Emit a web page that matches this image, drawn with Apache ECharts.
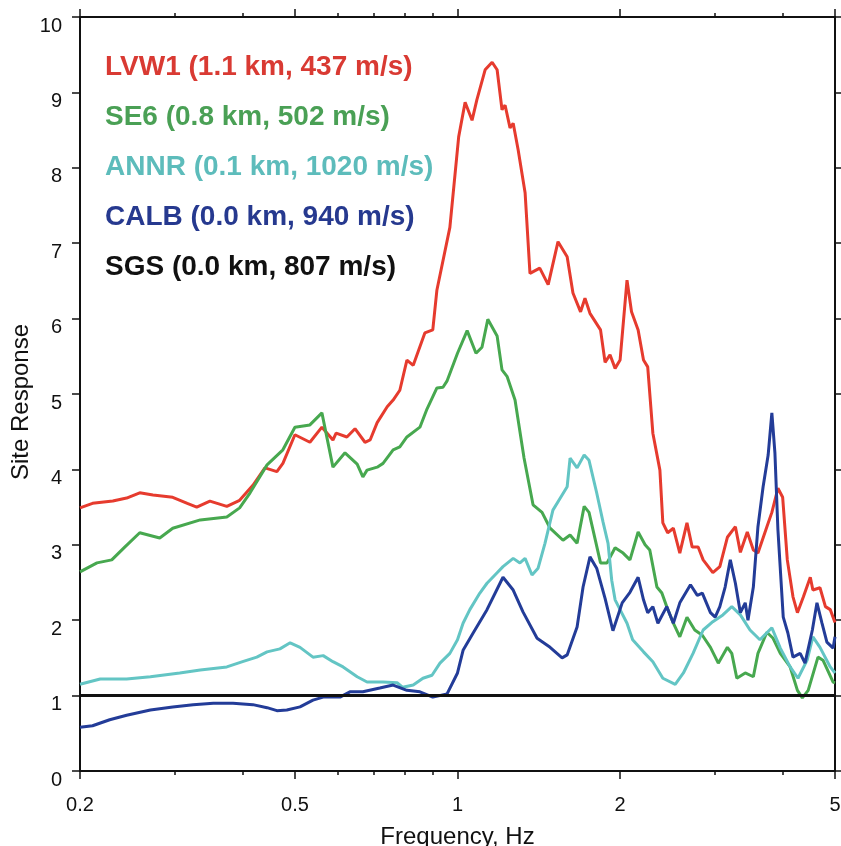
<!DOCTYPE html>
<html>
<head>
<meta charset="utf-8">
<script src="https://cdn.jsdelivr.net/npm/echarts@6/dist/echarts.min.js"></script>
<style>
  html, body { margin: 0; padding: 0; background: #fff; }
  #chart { width: 841px; height: 846px; }
</style>
</head>
<body>
<div id="chart"></div>
<script>
// x ticks (Hz) - the axis is drawn on log10(frequency)
const xMajor = [0.2, 0.5, 1, 2, 5];
const xMajorLabels = ['0.2', '0.5', '1', '2', '5'];
const xMinor = [0.3, 0.4, 0.6, 0.7, 0.8, 0.9, 3, 4];

const names = [
  'LVW1 (1.1 km, 437 m/s)',
  'SE6 (0.8 km, 502 m/s)',
  'ANNR (0.1 km, 1020 m/s)',
  'CALB (0.0 km, 940 m/s)',
  'SGS (0.0 km, 807 m/s)'
];

const redFreq = [0.2,0.211,0.230,0.244,0.258,0.273,0.297,0.316,0.329,0.348,0.374,0.395,0.418,0.440,0.463,0.475,0.5,0.533,0.561,0.588,0.596,0.624,0.646,0.674,0.689,0.710,0.741,0.760,0.782,0.806,0.828,0.870,0.9,0.916,0.968,1.005,1.033,1.064,1.086,1.125,1.159,1.184,1.209,1.225,1.251,1.268,1.295,1.334,1.362,1.42,1.472,1.535,1.596,1.636,1.69,1.722,1.759,1.84,1.876,1.916,1.958,2.0,2.06,2.10,2.16,2.21,2.25,2.30,2.37,2.40,2.45,2.51,2.58,2.66,2.72,2.79,2.85,2.97,3.06,3.16,3.27,3.34,3.44,3.53,3.60,3.74,3.82,3.92,4.0,4.08,4.18,4.26,4.37,4.50,4.55,4.69,4.80,4.90,5.0];
const redVals = [3.49,3.55,3.58,3.62,3.69,3.66,3.63,3.55,3.50,3.58,3.51,3.59,3.79,4.02,3.97,4.08,4.46,4.36,4.56,4.39,4.48,4.43,4.54,4.36,4.39,4.62,4.83,4.92,5.05,5.45,5.38,5.81,5.85,6.38,7.21,8.41,8.87,8.63,8.90,9.30,9.40,9.30,8.77,8.83,8.53,8.59,8.24,7.67,6.60,6.67,6.45,7.02,6.82,6.34,6.09,6.27,6.07,5.85,5.42,5.52,5.34,5.45,6.51,6.09,5.85,5.45,5.36,4.48,3.99,3.29,3.16,3.22,2.89,3.29,2.97,2.97,2.80,2.63,2.71,3.10,3.24,2.90,3.17,2.93,2.89,3.24,3.43,3.75,3.63,2.80,2.31,2.10,2.31,2.57,2.40,2.43,2.18,2.14,1.97];

const greenFreq = [0.2,0.215,0.229,0.242,0.258,0.281,0.297,0.334,0.374,0.395,0.413,0.444,0.475,0.5,0.533,0.561,0.588,0.619,0.652,0.668,0.680,0.710,0.728,0.760,0.782,0.806,0.852,0.878,0.916,0.940,0.956,1.0,1.042,1.082,1.11,1.138,1.184,1.209,1.236,1.278,1.328,1.38,1.434,1.484,1.568,1.616,1.665,1.716,1.752,1.84,1.892,1.958,2.026,2.086,2.16,2.225,2.27,2.34,2.39,2.44,2.51,2.58,2.66,2.75,2.84,2.94,3.04,3.16,3.22,3.29,3.41,3.53,3.60,3.74,3.84,3.96,4.13,4.26,4.35,4.46,4.65,4.75,4.96,5.0];
const greenVals = [2.64,2.76,2.80,2.97,3.16,3.09,3.22,3.33,3.37,3.49,3.69,4.06,4.26,4.56,4.59,4.75,4.03,4.22,4.07,3.90,3.99,4.03,4.08,4.26,4.30,4.43,4.56,4.80,5.08,5.09,5.17,5.54,5.84,5.54,5.62,5.99,5.77,5.32,5.23,4.92,4.15,3.53,3.43,3.22,3.06,3.13,3.02,3.51,3.43,2.76,2.76,2.96,2.89,2.80,3.17,3.00,2.93,2.44,2.36,2.18,1.96,1.78,2.04,1.87,1.80,1.64,1.43,1.64,1.56,1.23,1.30,1.25,1.56,1.84,1.76,1.56,1.38,1.07,0.97,1.07,1.51,1.47,1.18,1.17];

const cyanFreq = [0.2,0.218,0.244,0.270,0.306,0.334,0.374,0.4,0.425,0.444,0.469,0.490,0.511,0.540,0.564,0.588,0.614,0.652,0.680,0.728,0.773,0.792,0.828,0.863,0.897,0.928,0.968,1.0,1.024,1.054,1.10,1.134,1.184,1.214,1.268,1.305,1.334,1.374,1.41,1.452,1.502,1.55,1.596,1.616,1.665,1.716,1.752,1.81,1.86,1.90,1.93,1.958,2.0,2.06,2.11,2.21,2.30,2.40,2.53,2.62,2.73,2.85,2.97,3.10,3.22,3.34,3.48,3.63,3.82,3.96,4.13,4.27,4.44,4.55,4.69,4.90,5.0];
const cyanVals = [1.15,1.22,1.22,1.25,1.30,1.34,1.38,1.45,1.51,1.58,1.62,1.70,1.64,1.51,1.53,1.45,1.38,1.25,1.18,1.18,1.17,1.11,1.14,1.23,1.27,1.43,1.56,1.74,1.96,2.14,2.36,2.49,2.63,2.71,2.82,2.76,2.82,2.60,2.69,3.02,3.46,3.62,3.77,4.15,4.02,4.19,4.12,3.69,3.30,3.02,2.53,2.27,2.14,1.96,1.74,1.58,1.45,1.23,1.15,1.30,1.56,1.87,1.98,2.07,2.18,2.07,1.87,1.74,1.90,1.63,1.38,1.23,1.47,1.78,1.64,1.38,1.30];

const blueFreq = [0.2,0.211,0.227,0.244,0.270,0.297,0.324,0.353,0.384,0.418,0.444,0.463,0.483,0.511,0.540,0.564,0.606,0.632,0.668,0.718,0.760,0.806,0.852,0.9,0.956,1.0,1.024,1.069,1.134,1.214,1.268,1.322,1.404,1.484,1.562,1.596,1.665,1.708,1.759,1.81,1.876,1.94,2.018,2.086,2.16,2.21,2.25,2.30,2.35,2.44,2.51,2.58,2.70,2.78,2.84,2.94,3.0,3.06,3.13,3.20,3.27,3.34,3.41,3.45,3.53,3.60,3.68,3.76,3.82,3.87,3.92,4.01,4.09,4.18,4.31,4.40,4.54,4.63,4.73,4.83,4.96,5.0];
const blueVals = [0.58,0.60,0.68,0.74,0.81,0.85,0.88,0.90,0.90,0.88,0.84,0.80,0.81,0.85,0.94,0.98,0.98,1.05,1.05,1.10,1.14,1.07,1.05,0.98,1.02,1.30,1.60,1.83,2.14,2.57,2.40,2.11,1.76,1.64,1.50,1.54,1.91,2.44,2.84,2.69,2.29,1.86,2.23,2.37,2.57,2.27,2.10,2.18,1.96,2.18,1.96,2.23,2.47,2.33,2.36,2.10,2.04,2.18,2.44,2.80,2.49,2.10,2.23,2.00,2.44,3.24,3.77,4.19,4.75,4.22,3.20,2.04,1.83,1.51,1.56,1.43,1.87,2.23,1.96,1.71,1.63,1.78];

const sgsFreq = [0.2, 5];
const sgsVals = [1, 1];

const lineColors = ['#e63b2e', '#47a84f', '#63c5c4', '#233c98', '#111111'];
const textColors = ['#d93a33', '#4aa055', '#5dbcbb', '#26398f', '#111111'];

const lg = v => Math.log10(v);
const pairs = (fr, vals) => fr.map((f, i) => [lg(f), vals[i]]);

const xMin = lg(0.2), xMax = lg(5);
const font = 'Liberation Sans, Arial, Helvetica, sans-serif';

function xLabel(v) {
  let best = 0;
  xMajor.forEach((m, i) => {
    if (Math.abs(lg(m) - v) < Math.abs(lg(xMajor[best]) - v)) best = i;
  });
  return xMajorLabels[best];
}

function xAxisOf(pos, ticks, len, showLine, showLabel) {
  return {
    type: 'value',
    position: pos,
    min: xMin,
    max: xMax,
    axisLine: { show: showLine, onZero: false, lineStyle: { color: '#111', width: 2 } },
    axisTick: { show: true, customValues: ticks.map(lg), length: len, lineStyle: { color: '#111', width: 1.5 } },
    axisLabel: {
      show: showLabel,
      customValues: ticks.map(lg),
      formatter: xLabel,
      margin: 24,
      color: '#111',
      fontSize: 20,
      fontFamily: font
    },
    splitLine: { show: false }
  };
}

const xAxes = [
  xAxisOf('bottom', xMajor, 8, true, true),
  xAxisOf('bottom', xMinor, 4, false, false),
  xAxisOf('top', xMajor, 8, true, false),
  xAxisOf('top', xMinor, 4, false, false)
];
xAxes[0].name = 'Frequency, Hz';
xAxes[0].nameLocation = 'middle';
xAxes[0].nameGap = 54;
xAxes[0].nameTextStyle = { color: '#111', fontSize: 24, fontFamily: font };

function yAxisOf(pos, showLabel) {
  return {
    type: 'value',
    position: pos,
    min: 0,
    max: 10,
    interval: 1,
    axisLine: { show: true, onZero: false, lineStyle: { color: '#111', width: 2 } },
    axisTick: { show: true, length: 8, lineStyle: { color: '#111', width: 1.5 } },
    axisLabel: {
      show: showLabel,
      margin: 18,
      color: '#111',
      fontSize: 20,
      fontFamily: font,
      verticalAlign: 'top',
      lineHeight: 18
    },
    splitLine: { show: false }
  };
}

const yAxes = [yAxisOf('left', true), yAxisOf('right', false)];
yAxes[0].name = 'Site Response';
yAxes[0].nameLocation = 'middle';
yAxes[0].nameGap = 47;
yAxes[0].nameMoveOverlap = false;
yAxes[0].nameTextStyle = { color: '#111', fontSize: 24, fontFamily: font, padding: [0, 16, 0, 0] };

const seriesData = [
  pairs(redFreq, redVals),
  pairs(greenFreq, greenVals),
  pairs(cyanFreq, cyanVals),
  pairs(blueFreq, blueVals),
  pairs(sgsFreq, sgsVals)
];

const option = {
  backgroundColor: '#fff',
  animation: false,
  grid: { left: 80, right: 6, top: 17, bottom: 75, outerBoundsMode: 'none' },
  xAxis: xAxes,
  yAxis: yAxes,
  legend: {
    orient: 'vertical',
    left: 94,
    top: 47,
    itemWidth: 0,
    itemHeight: 0,
    itemGap: 20,
    selectedMode: false,
    data: names.map((n, i) => ({
      name: n,
      textStyle: { color: textColors[i] }
    })),
    textStyle: { fontSize: 28, fontWeight: 'bold', fontFamily: font, lineHeight: 30 }
  },
  series: names.map((n, i) => ({
    name: n,
    type: 'line',
    xAxisIndex: 0,
    yAxisIndex: 0,
    data: seriesData[i],
    showSymbol: false,
    symbol: 'none',
    lineStyle: { color: lineColors[i], width: 3 },
    itemStyle: { color: lineColors[i] }
  }))
};

const chart = echarts.init(document.getElementById('chart'));
chart.setOption(option);
window.onresize = function () {
  chart.resize();
};
</script>
</body>
</html>
